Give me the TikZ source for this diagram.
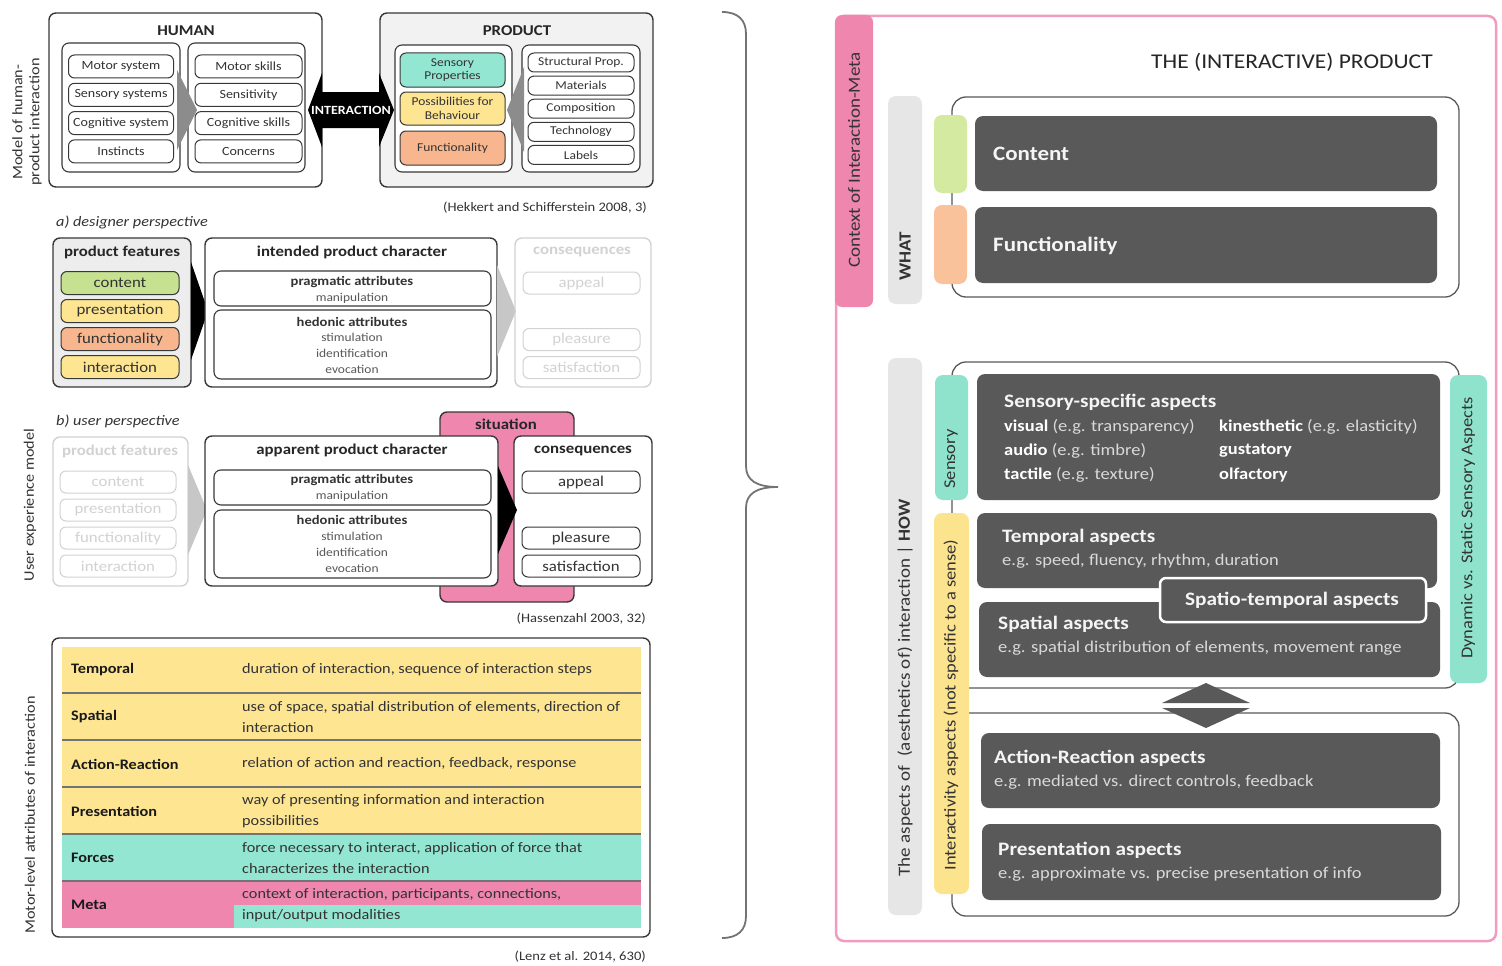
\documentclass[tikz,border=0pt]{standalone}
\usepackage{fontspec}
\setmainfont[FakeStretch=1.12]{Carlito}
\usetikzlibrary{positioning,fit,calc}

\definecolor{tealc}{HTML}{93E6D2}
\definecolor{yellc}{HTML}{FDE592}
\definecolor{oranc}{HTML}{F8B68F}
\definecolor{greec}{HTML}{C6E18F}
\definecolor{pinkc}{HTML}{EE86AD}
\definecolor{pinkline}{HTML}{F29BC1}
\definecolor{darkbox}{HTML}{595959}
\definecolor{barg}{HTML}{E6E6E6}
\definecolor{fade}{HTML}{D2D2D2}
\definecolor{greetab}{HTML}{D3EAA0}
\definecolor{orantab}{HTML}{F9C29A}
\definecolor{tealtab}{HTML}{8FE3CC}
\definecolor{yelltab}{HTML}{FCE38E}

\tikzset{
  frame/.style={draw=black!78, line width=1.4pt, rounded corners=7pt, inner sep=0pt},
  inbox/.style={frame, line width=1.1pt, fill=white},
  txt/.style={inner sep=0pt, text=black!80},
  side/.style={txt, rotate=90, align=center, font=\fontsize{14.5}{17}\selectfont},
  head/.style={txt, text=black!85, font=\bfseries\fontsize{15}{18}\selectfont},
  hitem/.style={frame, line width=1pt, fill=white, rounded corners=6pt, minimum width=105pt,
    minimum height=23pt, text=black!80, font=\fontsize{12.5}{14}\selectfont},
  pitem/.style={hitem, minimum width=106pt, minimum height=19pt, font=\fontsize{12}{13}\selectfont},
  fitem/.style={hitem, minimum width=118pt, minimum height=23pt, font=\fontsize{15}{17}\selectfont},
  faded/.style={draw=fade, text=fade},
  bsub/.style={txt, font=\bfseries\fontsize{13}{15}\selectfont},
  ssub/.style={txt, text=black!65, font=\fontsize{12}{14}\selectfont},
  persp/.style={txt, anchor=west, font=\itshape\fontsize{14.5}{17}\selectfont},
  cite/.style={txt, anchor=east, font=\fontsize{13}{15}\selectfont},
  tlabel/.style={txt, anchor=west, text=black!90, font=\bfseries\fontsize{14.5}{17}\selectfont},
  tdesc/.style={txt, anchor=west, align=left, font=\fontsize{14.5}{21}\selectfont},
  dbox/.style={fill=darkbox, rounded corners=8pt, inner sep=0pt},
  dtitle/.style={inner sep=0pt, anchor=west, text=white!96!black, font=\bfseries\fontsize{19}{22}\selectfont},
  dsub/.style={inner sep=0pt, anchor=west, text=black!15, font=\fontsize{16.5}{19}\selectfont},
  tab/.style={rounded corners=8pt, inner sep=0pt},
  vtext/.style={txt, rotate=90, font=\fontsize{16.5}{19}\selectfont},
  bracket/.style={draw=black!65, line width=1.3pt, rounded corners=14pt, inner sep=0pt}
}

\begin{document}
\begin{tikzpicture}[x=1pt,y=-1pt]
  \useasboundingbox[fill=white] (0,0) rectangle (1502,966);

  % Model of human-product interaction
  \node[side] (sidea) at (27,122) {Model of human-\\product interaction};
  \node[frame, fill=white, fit={(49,13) (322,187)}] (human) {};
  \node[head] (humant) at (186,31) {HUMAN};
  \node[inbox, fit={(62,43) (180,172)}] (hleft) {};
  \node[inbox, fit={(188,43) (305,172)}] (hright) {};
  \fill[black!45] (177,70) -- (197,110) -- (177,150) -- cycle;
  \foreach \t [count=\i] in {Motor system, Sensory systems, Cognitive system, Instincts}
    \node[hitem] (hl\i) at (121,{38.2+28.3*\i}) {\t};
  \foreach \t [count=\i] in {Motor skills, Sensitivity, Cognitive skills, Concerns}
    \node[hitem, minimum width=107pt] (hr\i) at (248.5,{38.2+28.3*\i}) {\t};

  \node[frame, fill=black!5, fit={(380,13) (653,187)}] (prod) {};
  \node[head] (prodt) at (517,31) {PRODUCT};
  \node[inbox, fit={(395,45) (512,172)}] (pleft) {};
  \node[inbox, fit={(522,45) (640,172)}] (pright) {};
  \fill[black!45] (524,67) -- (507,110) -- (524,152) -- cycle;
  \node[hitem, fill=tealc, minimum height=34pt, align=center, font=\fontsize{12}{13.5}\selectfont] (psens) at (452.5,70) {Sensory\\Properties};
  \node[hitem, fill=yellc, minimum height=33pt, align=center, font=\fontsize{12}{13.5}\selectfont] (pposs) at (452.5,108.5) {Possibilities for\\Behaviour};
  \node[hitem, fill=oranc, minimum height=34pt, font=\fontsize{12}{13.5}\selectfont] (pfunc) at (452.5,148) {Functionality};
  \foreach \t [count=\i] in {Structural Prop., Materials, Composition, Technology, Labels}
    \node[pitem] (pr\i) at (581,{39.4+23.1*\i}) {\t};

  % interaction double arrow
  \fill[black] (308,110) -- (322,73) -- (322,92) -- (379,92) -- (379,73) -- (394,110)
    -- (379,147) -- (379,128) -- (322,128) -- (322,147) -- cycle;
  \node[inner sep=0pt, text=white, font=\bfseries\fontsize{12.5}{14}\selectfont] (inter) at (351,110) {INTERACTION};
  \node[cite] (cite1) at (647,208) {(Hekkert and Schifferstein 2008, 3)};

  % a) designer perspective
  \node[persp] (pa) at (56,222) {a) designer perspective};
  \node[frame, fill=black!7, fit={(53,238) (191,387)}] (pf) {};
  \node[head] (pft) at (122,252) {product features};
  \foreach \t/\c [count=\i] in {content/greec, presentation/yellc, functionality/oranc, interaction/yellc}
    \node[fitem, fill=\c] (pf\i) at (120,{255+28*\i}) {\t};
  \fill[black] (191,262) -- (208,311) -- (191,360) -- cycle;

  \node[frame, fill=white, fit={(205,238) (497,387)}] (ipc) {};
  \node[head] (ipct) at (352,252) {intended product character};
  \node[inbox, fit={(214,271) (491,306)}] (ipra) {};
  \node[bsub] (iprat) at (352,282) {pragmatic attributes};
  \node[ssub] (ipras) at (352,298) {manipulation};
  \node[inbox, fit={(214,310) (491,379)}] (ihed) {};
  \node[bsub] (ihedt) at (352,322) {hedonic attributes};
  \foreach \t [count=\i] in {stimulation, identification, evocation}
    \node[ssub] (ihed\i) at (352,{322+15.7*\i}) {\t};
  \fill[black!22] (497,265) -- (516,311) -- (497,357) -- cycle;

  \node[frame, faded, fit={(515,238) (651,387)}] (acons) {};
  \node[head, text=fade] (aconst) at (582,252) {consequences};
  \foreach \t/\yy [count=\i] in {appeal/283, pleasure/339.5, satisfaction/367.5}
    \node[fitem, faded, minimum width=117pt, minimum height=22pt] (ac\i) at (581.5,\yy) {\t};

  % b) user perspective
  \node[side] (sideb) at (30,505) {User experience model};
  \node[persp] (pb) at (56,421) {b) user perspective};
  \node[frame, faded, fit={(53,437) (188,586)}] (upf) {};
  \node[head, text=fade] (upft) at (120,451) {product features};
  \foreach \t [count=\i] in {content, presentation, functionality, interaction}
    \node[fitem, faded, minimum width=116pt, minimum height=22pt] (upf\i) at (118,{454+28*\i}) {\t};
  \fill[black!22] (188,465) -- (207,510) -- (188,555) -- cycle;

  \node[frame, fill=pinkc, fit={(440,412) (574,602)}] (sit) {};
  \node[head] (sitt) at (506,424) {situation};
  \node[frame, fill=white, fit={(205,436) (498,586)}] (apc) {};
  \node[head] (apct) at (352,450) {apparent product character};
  \node[inbox, fit={(214,470) (491,505)}] (apra) {};
  \node[bsub] (aprat) at (352,480) {pragmatic attributes};
  \node[ssub] (apras) at (352,496) {manipulation};
  \node[inbox, fit={(214,510) (491,578)}] (ahed) {};
  \node[bsub] (ahedt) at (352,520) {hedonic attributes};
  \foreach \t [count=\i] in {stimulation, identification, evocation}
    \node[ssub] (ahed\i) at (352,{520+16*\i}) {\t};

  \node[frame, fill=white, fit={(514,436) (652,586)}] (ucons) {};
  \node[head] (uconst) at (583,451) {consequences};
  \foreach \t/\yy [count=\i] in {appeal/482, pleasure/538, satisfaction/566}
    \node[fitem, minimum width=118pt, minimum height=22pt] (uc\i) at (581,\yy) {\t};
  \fill[black] (498,466) -- (517,510) -- (498,554) -- cycle;
  \node[cite] (cite2) at (646,619) {(Hassenzahl 2003, 32)};

  % Motor-level attributes table
  \node[side] (sidec) at (30,815) {Motor-level attributes of interaction};
  \fill[yellc] (62,647) rectangle (641,834);
  \fill[tealc] (62,834) rectangle (641,881);
  \fill[pinkc] (62,881) rectangle (641,928);
  \fill[tealc] (234,905) rectangle (641,928);
  \foreach \y in {693,740,787,834,881}
    \draw[black!55, line width=1.2pt] (62,\y) -- (641,\y);
  \node[frame, fit={(52,638) (650,937)}] (tab) {};
  \foreach \t/\yy [count=\i] in {Temporal/670, Spatial/717, Action-Reaction/764, Presentation/811, Forces/858, Meta/905}
    \node[tlabel] (tl\i) at (71,\yy) {\t};
  \node[tdesc] (td1) at (242,670) {duration of interaction, sequence of interaction steps};
  \node[tdesc] (td2) at (242,717) {use of space, spatial distribution of elements, direction of\\interaction};
  \node[tdesc] (td3) at (242,764) {relation of action and reaction, feedback, response};
  \node[tdesc] (td4) at (242,811) {way of presenting information and interaction\\possibilities};
  \node[tdesc] (td5) at (242,858) {force necessary to interact, application of force that\\characterizes the interaction};
  \node[tdesc] (td6) at (242,905) {context of interaction, participants, connections,\\input/output modalities};
  \node[cite] (cite3) at (646,957) {(Lenz et al. 2014, 630)};

  % brace
  \draw[black!55, line width=1.8pt] (722,12) .. controls (738,12) and (746,20) .. (746,34)
    -- (746,466) .. controls (746,480) and (756,487) .. (778,487)
    .. controls (756,487) and (746,494) .. (746,508)
    -- (746,916) .. controls (746,930) and (738,938) .. (722,938);

  % the (interactive) product
  \node[draw=pinkline, line width=2.5pt, rounded corners=8pt, inner sep=0pt, fit={(836,16) (1496,941)}] (ctx) {};
  \node[fill=pinkc, rounded corners=7pt, inner sep=0pt, fit={(835,15) (873,307)}] (ctxtab) {};
  \node[vtext, font=\fontsize{17}{20}\selectfont] (ctxt) at (854,160) {Context of Interaction-Meta};
  \node[txt, text=black!85, font=\fontsize{21}{24}\selectfont] (prodtitle) at (1292,62) {THE (INTERACTIVE) PRODUCT};

  % WHAT
  \node[tab, fill=barg, fit={(888,96) (922,304)}] (whatbar) {};
  \node[vtext, font=\bfseries\fontsize{17}{20}\selectfont] (whatt) at (905,256) {WHAT};
  \node[bracket, fit={(952,97) (1459,297)}] (whatbr) {};
  \node[tab, fill=greetab, fit={(934,115) (967,193)}] (tcont) {};
  \node[tab, fill=orantab, fit={(934,205) (967,284)}] (tfunc) {};
  \node[dbox, fit={(975,116) (1437,191)}] (content) {};
  \node[dtitle, font=\bfseries\fontsize{20.5}{24}\selectfont] (contentt) at (993,154) {Content};
  \node[dbox, fit={(975,207) (1437,283)}] (func) {};
  \node[dtitle, font=\bfseries\fontsize{20.5}{24}\selectfont] (funct) at (993,246) {Functionality};

  % HOW
  \node[tab, fill=barg, fit={(888,358) (922,915)}] (howbar) {};
  \node[vtext, font=\fontsize{17}{20}\selectfont] (howt) at (905,688) {The aspects of\enspace(aesthetics of) interaction | \textbf{HOW}};
  \node[bracket, fit={(952,362) (1459,688)}] (upbr) {};
  \node[bracket, fit={(952,713) (1459,916)}] (lowbr) {};
  \node[tab, fill=tealtab, fit={(935,375) (968,500)}] (tsens) {};
  \node[vtext] (tsenst) at (951,459) {Sensory};
  \node[tab, fill=yelltab, fit={(934,513) (969,894)}] (tinter) {};
  \node[vtext] (tintert) at (951,705) {Interactivity aspects (not specific to a sense)};
  \node[tab, fill=tealtab, fit={(1450,375) (1487,683)}] (tdyn) {};
  \node[vtext] (tdynt) at (1468,528) {Dynamic vs. Static Sensory Aspects};

  \node[dbox, fit={(977,374) (1440,500)}] (sens) {};
  \node[dtitle] (senst) at (1004,402) {Sensory-specific aspects};
  \foreach \b/\r/\yy [count=\i] in {visual/{ (e.g. transparency)}/427, audio/{ (e.g. timbre)}/451, tactile/{ (e.g. texture)}/475}
    \node[dsub] (sl\i) at (1004,\yy) {\textcolor{white}{\textbf{\b}}\r};
  \node[dsub] (sr1) at (1219,427) {\textcolor{white}{\textbf{kinesthetic}} (e.g. elasticity)};
  \node[dsub] (sr2) at (1219,451) {\textcolor{white}{\textbf{gustatory}}};
  \node[dsub] (sr3) at (1219,475) {\textcolor{white}{\textbf{olfactory}}};

  \node[dbox, fit={(977,513) (1437,588)}] (temp) {};
  \node[dtitle] (tempt) at (1002,537) {Temporal aspects};
  \node[dsub] (temps) at (1002,561) {e.g. speed, fluency, rhythm, duration};
  \node[dbox, fit={(979,602) (1440,677)}] (spat) {};
  \node[dtitle] (spatt) at (998,624) {Spatial aspects};
  \node[dsub] (spats) at (998,648) {e.g. spatial distribution of elements, movement range};
  \node[dbox, draw=white, line width=2.5pt, rounded corners=6pt, fit={(1160,578) (1426,622)}] (spt) {};
  \node[dtitle, anchor=center] (sptt) at (1292,600) {Spatio-temporal aspects};

  % double arrow between the groups
  \fill[darkbox] (1162,703) -- (1206,683) -- (1250,703) -- cycle;
  \fill[darkbox] (1162,708) -- (1250,708) -- (1206,728) -- cycle;

  \node[dbox, fit={(981,733) (1440,808)}] (actr) {};
  \node[dtitle] (actrt) at (994,758) {Action-Reaction aspects};
  \node[dsub] (actrs) at (994,782) {e.g. mediated vs. direct controls, feedback};
  \node[dbox, fit={(982,824) (1441,900)}] (pres) {};
  \node[dtitle] (prest) at (998,850) {Presentation aspects};
  \node[dsub] (press) at (998,874) {e.g. approximate vs. precise presentation of info};
\end{tikzpicture}
\end{document}
